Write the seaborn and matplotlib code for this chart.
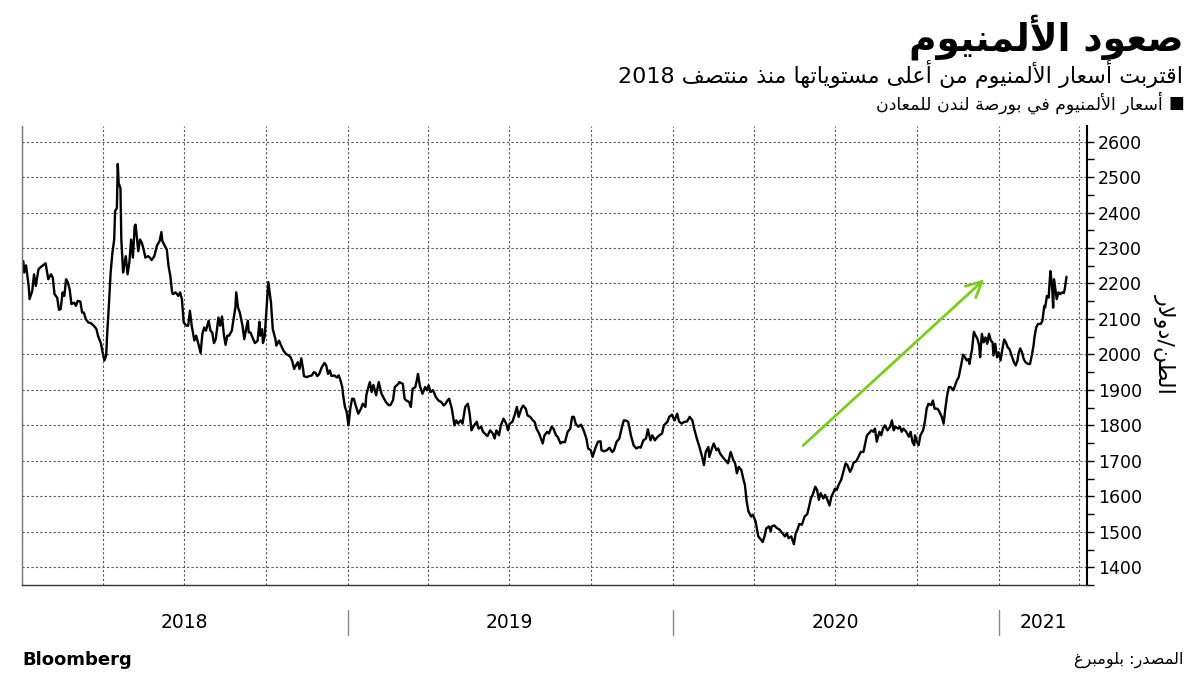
import re
import matplotlib
matplotlib.use("Agg")
import matplotlib.pyplot as plt
import matplotlib.dates as mdates
import matplotlib.transforms as mtransforms
import seaborn as sns
import pandas as pd

# LME aluminium price, USD per tonne
days_2018 = ["01-02", "01-03", "01-05", "01-08", "01-09", "01-12", "01-14", "01-16", "01-19", "01-21", "01-24", "01-27", "01-30",
             "02-02", "02-04", "02-06", "02-09", "02-11", "02-13", "02-15", "02-17", "02-19", "02-21", "02-23", "02-25", "02-28",
             "03-02", "03-04", "03-07", "03-09", "03-11", "03-13", "03-16", "03-19", "03-22", "03-25", "03-27", "03-30",
             "04-01", "04-03", "04-05", "04-06", "04-08", "04-10", "04-12", "04-14", "04-15", "04-17", "04-18", "04-19", "04-21", "04-22", "04-24", "04-25", "04-27", "04-29",
             "05-01", "05-03", "05-05", "05-07", "05-08", "05-11", "05-13", "05-15", "05-17", "05-19", "05-22", "05-24", "05-26", "05-29",
             "06-01", "06-04", "06-06", "06-07", "06-10", "06-12", "06-14", "06-16", "06-18", "06-19", "06-22", "06-25", "06-27", "06-29",
             "07-01", "07-04", "07-06", "07-08", "07-10", "07-13", "07-15", "07-18", "07-20", "07-22", "07-24", "07-26", "07-29", "07-31",
             "08-02", "08-04", "08-06", "08-09", "08-11", "08-13", "08-15", "08-17", "08-19", "08-21", "08-24", "08-26", "08-28", "08-29", "08-31",
             "09-02", "09-05", "09-07", "09-09", "09-11", "09-12", "09-14", "09-17", "09-19", "09-22", "09-24", "09-25", "09-27", "09-28", "09-30",
             "10-02", "10-04", "10-07", "10-09", "10-12", "10-13", "10-16", "10-18", "10-21", "10-24", "10-27", "10-29", "10-31",
             "11-02", "11-04", "11-06", "11-08", "11-10", "11-12", "11-13", "11-16", "11-19", "11-22", "11-24", "11-26", "11-28", "11-30",
             "12-03", "12-06", "12-08", "12-10", "12-12", "12-14", "12-17", "12-20", "12-22", "12-24", "12-26", "12-27", "12-29", "12-31"]
alu_2018 = [2263, 2231, 2251, 2193, 2156, 2179, 2226, 2193, 2240, 2245, 2251, 2257, 2212,
            2226, 2217, 2170, 2160, 2126, 2128, 2175, 2165, 2212, 2203, 2184, 2142, 2146,
            2137, 2151, 2149, 2118, 2118, 2100, 2090, 2088, 2081, 2072, 2051, 2032,
            2006, 1983, 1997, 2053, 2137, 2231, 2287, 2324, 2404, 2413, 2537, 2483, 2469, 2324, 2231, 2249, 2277, 2226,
            2259, 2324, 2273, 2362, 2366, 2291, 2324, 2315, 2296, 2273, 2277, 2273, 2266, 2277,
            2307, 2320, 2345, 2320, 2305, 2296, 2249, 2221, 2175, 2170, 2175, 2165, 2175, 2156,
            2090, 2081, 2081, 2123, 2081, 2039, 2053, 2025, 2004, 2058, 2076, 2067, 2095, 2067,
            2062, 2032, 2043, 2104, 2081, 2107, 2058, 2027, 2053, 2053, 2067, 2100, 2132, 2175, 2132,
            2118, 2081, 2043, 2071, 2095, 2062, 2062, 2043, 2032, 2039, 2092, 2053, 2071, 2032, 2053,
            2128, 2204, 2146, 2071, 2043, 2025, 2039, 2027, 2011, 2001, 1997, 1992, 1980,
            1959, 1969, 1978, 1959, 1989, 1959, 1939, 1936, 1939, 1941, 1950, 1948, 1939, 1944,
            1964, 1976, 1969, 1945, 1955, 1939, 1941, 1935, 1941, 1927, 1908, 1885, 1852, 1838]

days_2019 = ["01-02", "01-04", "01-06", "01-08", "01-10", "01-13", "01-16", "01-18", "01-21", "01-22", "01-24", "01-26", "01-28", "01-30",
             "02-02", "02-05", "02-06", "02-08", "02-10", "02-13", "02-16", "02-18", "02-21", "02-23", "02-27", "02-28",
             "03-04", "03-06", "03-08", "03-11", "03-13", "03-15", "03-18", "03-20", "03-21", "03-23", "03-26", "03-29", "03-31",
             "04-02", "04-04", "04-07", "04-10", "04-13", "04-16", "04-19", "04-21", "04-23", "04-25", "04-28",
             "05-01", "05-03", "05-05", "05-08", "05-10", "05-13", "05-16", "05-18", "05-20", "05-23", "05-26", "05-28", "05-31",
             "06-02", "06-04", "06-07", "06-10", "06-13", "06-15", "06-17", "06-20", "06-22", "06-25", "06-28", "06-30",
             "07-02", "07-05", "07-08", "07-10", "07-12", "07-15", "07-17", "07-20", "07-22", "07-25", "07-28", "07-30",
             "08-01", "08-04", "08-06", "08-08", "08-10", "08-13", "08-15", "08-18", "08-20", "08-23", "08-25", "08-28", "08-30",
             "09-02", "09-05", "09-08", "09-10", "09-12", "09-14", "09-17", "09-20", "09-23", "09-26", "09-28",
             "10-01", "10-03", "10-06", "10-09", "10-12", "10-13", "10-16", "10-19", "10-22", "10-25", "10-27", "10-30",
             "11-02", "11-05", "11-07", "11-09", "11-12", "11-15", "11-18", "11-21", "11-24", "11-26", "11-29",
             "12-02", "12-04", "12-07", "12-09", "12-12", "12-14", "12-17", "12-20", "12-22", "12-26", "12-28", "12-31"]
alu_2019 = [1800, 1847, 1875, 1875, 1857, 1833, 1847, 1861, 1852, 1885, 1905, 1922, 1894, 1914,
            1885, 1922, 1911, 1889, 1880, 1866, 1857, 1857, 1871, 1908, 1917, 1922,
            1917, 1875, 1870, 1866, 1852, 1903, 1908, 1931, 1945, 1913, 1889, 1908, 1899,
            1913, 1894, 1899, 1880, 1870, 1866, 1856, 1861, 1870, 1875, 1847,
            1800, 1814, 1805, 1814, 1805, 1852, 1861, 1833, 1786, 1800, 1810, 1791, 1796,
            1782, 1777, 1770, 1786, 1777, 1763, 1786, 1772, 1800, 1819, 1805, 1786,
            1805, 1810, 1833, 1852, 1824, 1847, 1856, 1847, 1828, 1824, 1814, 1810,
            1791, 1777, 1763, 1749, 1772, 1782, 1777, 1796, 1791, 1772, 1767, 1749, 1753,
            1753, 1782, 1791, 1824, 1824, 1805, 1796, 1802, 1786, 1763, 1735,
            1730, 1711, 1735, 1754, 1755, 1730, 1727, 1730, 1737, 1725, 1730, 1754,
            1763, 1796, 1814, 1814, 1810, 1772, 1744, 1735, 1739, 1737, 1758,
            1763, 1789, 1758, 1772, 1758, 1765, 1772, 1777, 1800, 1810, 1824, 1830]

days_2020 = ["01-03", "01-06", "01-08", "01-11", "01-14", "01-17", "01-20", "01-23", "01-25", "01-28", "01-31",
             "02-03", "02-05", "02-07", "02-10", "02-11", "02-14", "02-16", "02-19", "02-21", "02-23", "02-26", "02-29",
             "03-03", "03-06", "03-09", "03-11", "03-13", "03-15", "03-18", "03-20", "03-22", "03-24", "03-26", "03-29", "03-31",
             "04-03", "04-05", "04-06", "04-09", "04-11", "04-13", "04-15", "04-18", "04-20", "04-21", "04-24", "04-27", "04-30",
             "05-03", "05-06", "05-08", "05-10", "05-13", "05-16", "05-18", "05-20", "05-22", "05-25", "05-28", "05-31",
             "06-02", "06-04", "06-06", "06-09", "06-11", "06-13", "06-15", "06-18", "06-20", "06-22", "06-25", "06-27", "06-29",
             "07-01", "07-03", "07-06", "07-08", "07-10", "07-13", "07-15", "07-18", "07-20", "07-22", "07-25", "07-27", "07-30",
             "08-02", "08-04", "08-06", "08-08", "08-11", "08-13", "08-15", "08-17", "08-20", "08-22", "08-24", "08-26", "08-29",
             "09-01", "09-03", "09-05", "09-07", "09-10", "09-12", "09-14", "09-16", "09-19", "09-22", "09-24", "09-26", "09-28", "09-29",
             "10-01", "10-03", "10-05", "10-08", "10-10", "10-12", "10-14", "10-17", "10-19", "10-21", "10-24", "10-26", "10-29", "10-31",
             "11-02", "11-04", "11-06", "11-08", "11-11", "11-13", "11-15", "11-17", "11-20", "11-22", "11-24", "11-26", "11-28", "11-29",
             "12-02", "12-04", "12-06", "12-08", "12-10", "12-11", "12-13", "12-15", "12-17", "12-19", "12-21", "12-23", "12-25", "12-26", "12-28", "12-30"]
alu_2020 = [1814, 1833, 1811, 1805, 1810, 1811, 1824, 1814, 1791, 1763, 1739,
            1711, 1688, 1725, 1739, 1711, 1735, 1749, 1730, 1735, 1721, 1711, 1702,
            1693, 1725, 1702, 1693, 1665, 1683, 1674, 1651, 1632, 1585, 1557, 1543, 1548,
            1529, 1501, 1487, 1478, 1471, 1487, 1510, 1515, 1501, 1515, 1518, 1510, 1506,
            1496, 1487, 1496, 1482, 1487, 1465, 1496, 1506, 1522, 1520, 1543, 1550,
            1571, 1594, 1604, 1627, 1618, 1590, 1609, 1594, 1604, 1594, 1574, 1599, 1609,
            1621, 1618, 1637, 1646, 1665, 1693, 1688, 1669, 1679, 1695, 1699, 1709, 1725,
            1725, 1749, 1772, 1777, 1786, 1782, 1791, 1754, 1782, 1772, 1791, 1800, 1786,
            1796, 1814, 1786, 1796, 1791, 1796, 1782, 1791, 1782, 1768, 1782, 1754, 1744, 1772,
            1754, 1744, 1772, 1786, 1810, 1847, 1861, 1857, 1870, 1847, 1847, 1840, 1824, 1805,
            1847, 1885, 1908, 1908, 1899, 1913, 1927, 1936, 1973, 1999, 1992, 1983, 1987, 1973,
            2015, 2064, 2053, 2044, 2025, 1992, 2058, 2034, 2048, 2030, 2058, 2039, 2034, 1997, 2030, 1992]

days_2021 = ["01-01", "01-03", "01-05", "01-07", "01-09", "01-11", "01-13", "01-16", "01-18", "01-20", "01-22", "01-23", "01-25", "01-27", "01-29", "01-31",
             "02-03", "02-05", "02-07", "02-09", "02-10", "02-12", "02-14", "02-17", "02-19", "02-21", "02-22", "02-24", "02-26", "02-27", "02-28",
             "03-02", "03-03", "03-04", "03-06", "03-07", "03-09", "03-11", "03-13", "03-15", "03-16", "03-18"]
alu_2021 = [2006, 1983, 2015, 2042, 2034, 2020, 2015, 1992, 1978, 1969, 1983, 2001, 2017, 2006, 1987, 1978,
            1973, 1973, 1997, 2025, 2048, 2076, 2086, 2086, 2095, 2137, 2132, 2165, 2160, 2203, 2235,
            2184, 2132, 2212, 2175, 2156, 2175, 2170, 2175, 2173, 2184, 2219]

arrow_from = ("2020-05-24", 1738)
arrow_to = ("2020-12-18", 2217)
year_labels = ["2018", "2019", "2020", "2021"]
year_mid = ["2018-07-02", "2019-07-02", "2020-07-01", "2021-02-20"]
year_bounds = ["2019-01-01", "2020-01-01", "2021-01-01"]

title = "صعود الألمنيوم"
subtitle = "اقتربت أسعار الألمنيوم من أعلى مستوياتها منذ منتصف 2018"
legend_label = "أسعار الألمنيوم في بورصة لندن للمعادن"
y_label = "الطن/دولار"
source = "المصدر: بلومبرغ"

# matplotlib has no Arabic shaping: map letters to presentation forms and reverse
FORMS = {
    'ا': ('\uFE8D', '\uFE8E', None, None), 'أ': ('\uFE83', '\uFE84', None, None),
    'ب': ('\uFE8F', '\uFE90', '\uFE91', '\uFE92'), 'ة': ('\uFE93', '\uFE94', None, None),
    'ت': ('\uFE95', '\uFE96', '\uFE97', '\uFE98'), 'د': ('\uFEA9', '\uFEAA', None, None),
    'ذ': ('\uFEAB', '\uFEAC', None, None), 'ر': ('\uFEAD', '\uFEAE', None, None),
    'س': ('\uFEB1', '\uFEB2', '\uFEB3', '\uFEB4'), 'ص': ('\uFEB9', '\uFEBA', '\uFEBB', '\uFEBC'),
    'ط': ('\uFEC1', '\uFEC2', '\uFEC3', '\uFEC4'), 'ع': ('\uFEC9', '\uFECA', '\uFECB', '\uFECC'),
    'غ': ('\uFECD', '\uFECE', '\uFECF', '\uFED0'), 'ف': ('\uFED1', '\uFED2', '\uFED3', '\uFED4'),
    'ق': ('\uFED5', '\uFED6', '\uFED7', '\uFED8'), 'ل': ('\uFEDD', '\uFEDE', '\uFEDF', '\uFEE0'),
    'م': ('\uFEE1', '\uFEE2', '\uFEE3', '\uFEE4'), 'ن': ('\uFEE5', '\uFEE6', '\uFEE7', '\uFEE8'),
    'ه': ('\uFEE9', '\uFEEA', '\uFEEB', '\uFEEC'), 'و': ('\uFEED', '\uFEEE', None, None),
    'ى': ('\uFEEF', '\uFEF0', None, None), 'ي': ('\uFEF1', '\uFEF2', '\uFEF3', '\uFEF4'),
}
LAM_ALEF = {'ا': ('\uFEFB', '\uFEFC'), 'أ': ('\uFEF7', '\uFEF8')}


def joins_next(c):
    return c in FORMS and FORMS[c][2] is not None


def ar(text):
    out = []
    i = 0
    while i < len(text):
        c = text[i]
        if c not in FORMS:
            out.append(c)
            i += 1
            continue
        p = i > 0 and joins_next(text[i - 1])
        if c == 'ل' and i + 1 < len(text) and text[i + 1] in LAM_ALEF:
            out.append(LAM_ALEF[text[i + 1]][1 if p else 0])
            i += 2
            continue
        q = joins_next(c) and i + 1 < len(text) and text[i + 1] in FORMS
        iso, fin, ini, med = FORMS[c]
        out.append(med if p and q else fin if p else ini if q else iso)
        i += 1
    s = ''.join(out)[::-1]
    return re.sub(r'[0-9A-Za-z]+', lambda m: m.group(0)[::-1], s)


frames = []
for yr, days, vals in [(2018, days_2018, alu_2018), (2019, days_2019, alu_2019),
                       (2020, days_2020, alu_2020), (2021, days_2021, alu_2021)]:
    frames.append(pd.DataFrame({"date": pd.to_datetime([f"{yr}-{d}" for d in days]), "price": vals}))
df = pd.concat(frames, ignore_index=True)

sns.set_style("white")
plt.rcParams['font.family'] = ['DejaVu Sans']
plt.rcParams['text.color'] = 'black'
plt.rcParams['xtick.color'] = 'black'
plt.rcParams['ytick.color'] = 'black'

fig = plt.figure(figsize=(12, 6.75), dpi=100)
ax = fig.add_axes([22 / 1200, 1 - 585 / 675, 1065 / 1200, 459 / 675])

sns.lineplot(data=df, x="date", y="price", ax=ax, color="black", linewidth=1.7)

ax.annotate("", xy=(pd.Timestamp(arrow_to[0]), arrow_to[1]),
            xytext=(pd.Timestamp(arrow_from[0]), arrow_from[1]),
            arrowprops=dict(arrowstyle="->", color="#7ccc1e", lw=2, mutation_scale=28))

ax.set_xlim(pd.Timestamp("2017-12-31 12:00"), pd.Timestamp("2021-04-10"))
ax.set_ylim(1356, 2644)
ax.set_xlabel("")
ax.set_ylabel("")

ax.yaxis.tick_right()
ax.set_yticks(range(1400, 2700, 100))
ax.set_yticks(range(1350, 2650, 100), minor=True)
ax.tick_params(axis="y", which="both", length=5, width=1, colors="black", labelsize=12.5, pad=3, direction="out")

ax.xaxis.set_major_locator(mdates.MonthLocator(bymonth=[1, 4, 7, 10]))
ax.xaxis.set_minor_locator(mdates.MonthLocator())
ax.tick_params(axis="x", which="both", length=5, width=1, color="#777777", labelbottom=False, direction="out")

ax.grid(axis="y", which="major", linestyle=(0, (2, 2)), color="#555555", linewidth=0.8)
ax.grid(axis="x", which="major", linestyle=(0, (2, 2)), color="#555555", linewidth=0.8)

ax.spines["top"].set_visible(False)
ax.spines["left"].set_color("#777777")
ax.spines["left"].set_linewidth(1)
ax.spines["bottom"].set_color("#333333")
ax.spines["bottom"].set_linewidth(1)
ax.spines["right"].set_color("black")
ax.spines["right"].set_linewidth(1.5)

trans = mtransforms.blended_transform_factory(ax.transData, ax.transAxes)
for lab, mid in zip(year_labels, year_mid):
    ax.text(pd.Timestamp(mid), -0.081, lab, transform=trans, ha="center", va="center", fontsize=13.5, color="black")
for b in year_bounds:
    ax.plot([pd.Timestamp(b)] * 2, [-0.055, -0.108], transform=trans, color="#888888", lw=1, clip_on=False)

ax.text(1.073, 0.525, ar(y_label), transform=ax.transAxes, rotation=270, ha="center", va="center", fontsize=16)

fig.text(0.986, 0.945, ar(title), ha="right", va="center", fontsize=27, fontweight="bold")
fig.text(0.986, 0.891, ar(subtitle), ha="right", va="center", fontsize=16)
fig.text(0.9865, 0.848, "■", ha="right", va="center", fontsize=12)
fig.text(0.969, 0.848, ar(legend_label), ha="right", va="center", fontsize=12.5)
fig.text(22 / 1200, 0.022, "Bloomberg", ha="left", va="center", fontsize=13, fontweight="bold")
fig.text(0.986, 0.022, ar(source), ha="right", va="center", fontsize=11.5)

fig.savefig("out.png", dpi=100)
